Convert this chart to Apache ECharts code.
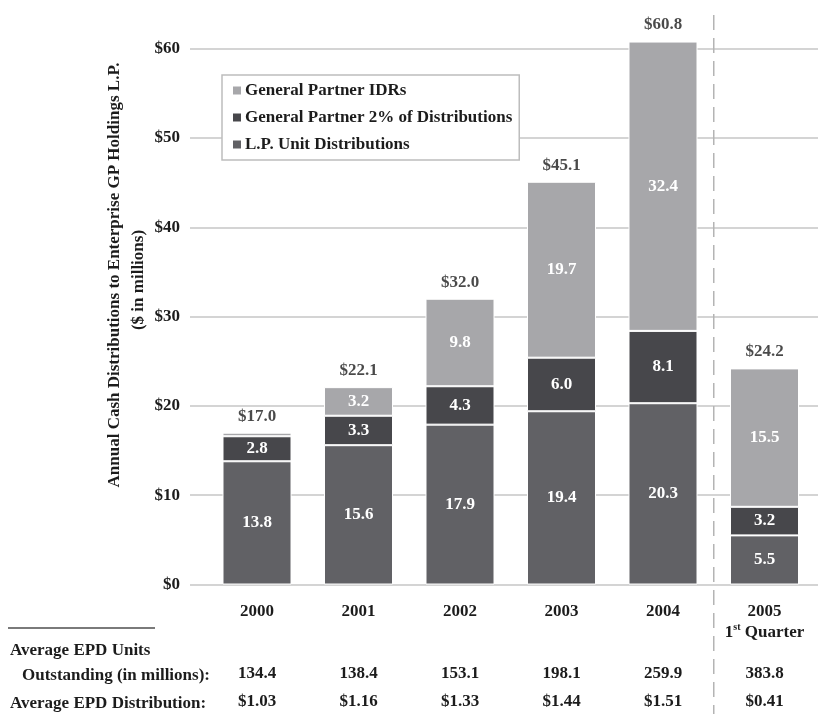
<!DOCTYPE html>
<html>
<head>
<meta charset="utf-8">
<script src="https://cdn.jsdelivr.net/npm/echarts@6/dist/echarts.min.js"></script>
<style>
html,body{margin:0;padding:0;background:#fff;}
#chart{width:823px;height:714px;}
</style>
</head>
<body>
<div id="chart"></div>
<script>
const categories = ['2000', '2001', '2002', '2003', '2004', '2005'];
const subLabels = ['', '', '', '', '', '1st Quarter'];
const lpUnit = [13.8, 15.6, 17.9, 19.4, 20.3, 5.5];
const gp2 = [2.8, 3.3, 4.3, 6.0, 8.1, 3.2];
const idrs = [0.4, 3.2, 9.8, 19.7, 32.4, 15.5];
const totals = [17.0, 22.1, 32.0, 45.1, 60.8, 24.2];
const unitsOutstanding = ['134.4', '138.4', '153.1', '198.1', '259.9', '383.8'];
const avgDistribution = ['$1.03', '$1.16', '$1.33', '$1.44', '$1.51', '$0.41'];
const seriesNames = ['L.P. Unit Distributions', 'General Partner 2% of Distributions', 'General Partner IDRs'];
const legendOrder = ['General Partner IDRs', 'General Partner 2% of Distributions', 'L.P. Unit Distributions'];
const rowHeaders = ['Average EPD Units', 'Outstanding (in millions):', 'Average EPD Distribution:'];
const yTitle = ['Annual Cash Distributions to Enterprise GP Holdings L.P.', '($ in millions)'];

const FONT = '"Liberation Serif", "DejaVu Serif", serif';
const TXT = '#1c1c1c';
const TOP = 48.7, BOTTOM = 129.5;

function catAxis(extra) {
  return Object.assign({
    type: 'category', gridIndex: 0, data: categories, position: 'bottom', boundaryGap: true,
    axisLine: {show: false}, axisTick: {show: false}, splitLine: {show: false}
  }, extra);
}
const lblStyle = {margin: 17, fontFamily: FONT, fontWeight: 'bold', fontSize: 17, color: TXT, interval: 0};

function barSeries(name, vals, color) {
  return {
    name: name, type: 'bar', stack: 'total', barWidth: 69, clip: false,
    xAxisIndex: 0, yAxisIndex: 0,
    itemStyle: {color: color, borderColor: '#ffffff', borderWidth: 1},
    label: {
      show: true, position: 'inside', color: '#ffffff',
      fontFamily: FONT, fontWeight: 'bold', fontSize: 17,
      formatter: p => (p.value >= 1 ? p.value.toFixed(1) : '')
    },
    data: vals.slice()
  };
}

const chart = echarts.init(document.getElementById('chart'), null, {renderer: 'canvas'});

const option = {
  backgroundColor: '#ffffff',
  animation: false,
  textStyle: {fontFamily: FONT},
  grid: [
    {left: 206.25, right: 7.75, top: TOP, bottom: BOTTOM, containLabel: false, z: 3},
    {left: 190, right: 5, top: TOP, bottom: BOTTOM, containLabel: false, z: 0}
  ],
  legend: {
    data: legendOrder, orient: 'vertical', left: 222, top: 75,
    padding: [7, 7, 7, 9], itemGap: 10, itemWidth: 10, itemHeight: 10,
    backgroundColor: '#ffffff', borderColor: '#bdbdbd', borderWidth: 1.5,
    icon: 'rect', selectedMode: false, z: 10,
    textStyle: {fontFamily: FONT, fontWeight: 'bold', fontSize: 17, color: TXT, padding: [0, 0, 0, -2]}
  },
  xAxis: [
    catAxis({
      axisLabel: Object.assign({}, lblStyle, {
        formatter: (v, i) => {
          const sub = subLabels[i];
          if (sub) {
            const m = sub.match(/^(\d+)(st|nd|rd|th)(.*)$/);
            if (m) return '{c|' + v + '}\n{c|' + m[1] + '}{s|' + m[2] + '}{c|' + m[3] + '}';
            return '{c|' + v + '}\n{c|' + sub + '}';
          }
          return '{c|' + v + '}';
        },
        rich: {
          c: {fontFamily: FONT, fontWeight: 'bold', fontSize: 17, color: TXT, lineHeight: 21},
          s: {fontFamily: FONT, fontWeight: 'bold', fontSize: 10, color: TXT, lineHeight: 21, verticalAlign: 'top', padding: [0, 0, 6, 0]}
        }
      })
    }),
    catAxis({offset: 64, axisLabel: Object.assign({}, lblStyle, {formatter: (v, i) => unitsOutstanding[i]})}),
    catAxis({offset: 92, axisLabel: Object.assign({}, lblStyle, {formatter: (v, i) => avgDistribution[i]})}),
    {type: 'value', gridIndex: 1, min: 0, max: 1, show: false}
  ],
  yAxis: [
    {type: 'value', gridIndex: 0, min: 0, max: 60, interval: 10, show: false, splitLine: {show: false}},
    {
      type: 'value', gridIndex: 1, min: 0, max: 60, interval: 10,
      axisLine: {show: false}, axisTick: {show: false},
      axisLabel: {margin: 10, fontFamily: FONT, fontWeight: 'bold', fontSize: 17, color: TXT, formatter: v => '$' + v},
      splitLine: {show: true, lineStyle: {color: '#c6c6c6', width: 1.5}}
    }
  ],
  series: [
    barSeries(seriesNames[0], lpUnit, '#616165'),
    barSeries(seriesNames[1], gp2, '#47474b'),
    barSeries(seriesNames[2], idrs, '#a7a7aa'),
    {
      name: 'totals', type: 'scatter', symbolSize: 0, clip: false, xAxisIndex: 0, yAxisIndex: 0,
      silent: true,
      label: {show: true, position: 'top', distance: 8, color: TXT, fontFamily: FONT, fontWeight: 'bold', fontSize: 17,
        formatter: p => '$' + p.value.toFixed(1)},
      data: totals.slice()
    }
  ]
};
chart.setOption(option);

const x4 = chart.convertToPixel({xAxisIndex: 0}, categories[4]);
const x5 = chart.convertToPixel({xAxisIndex: 0}, categories[5]);
const sepX = (x4 + x5) / 2;
const graphics = [
  {type: 'line', shape: {x1: sepX, y1: 15, x2: sepX, y2: 714}, style: {stroke: '#b4b4b4', lineWidth: 1.5, lineDash: [15, 8]}, z: 0, silent: true},
  {type: 'line', shape: {x1: 8, y1: 628, x2: 155, y2: 628}, style: {stroke: '#7a7a7a', lineWidth: 2}, silent: true},
  {type: 'text', x: 10, y: 651, style: {text: rowHeaders[0], fill: TXT, font: 'bold 17px ' + FONT, textVerticalAlign: 'middle', textAlign: 'left'}},
  {type: 'text', x: 22, y: 676, style: {text: rowHeaders[1], fill: TXT, font: 'bold 17px ' + FONT, textVerticalAlign: 'middle', textAlign: 'left'}},
  {type: 'text', x: 10, y: 704, style: {text: rowHeaders[2], fill: TXT, font: 'bold 17px ' + FONT, textVerticalAlign: 'middle', textAlign: 'left'}},
  {type: 'text', x: 115, y: 275, rotation: Math.PI / 2, style: {text: yTitle[0], fill: TXT, font: 'bold 17px ' + FONT, textVerticalAlign: 'middle', textAlign: 'center'}},
  {type: 'text', x: 139, y: 280, rotation: Math.PI / 2, style: {text: yTitle[1], fill: TXT, font: 'bold 17px ' + FONT, textVerticalAlign: 'middle', textAlign: 'center'}}
];
chart.setOption({graphic: graphics});
</script>
</body>
</html>
